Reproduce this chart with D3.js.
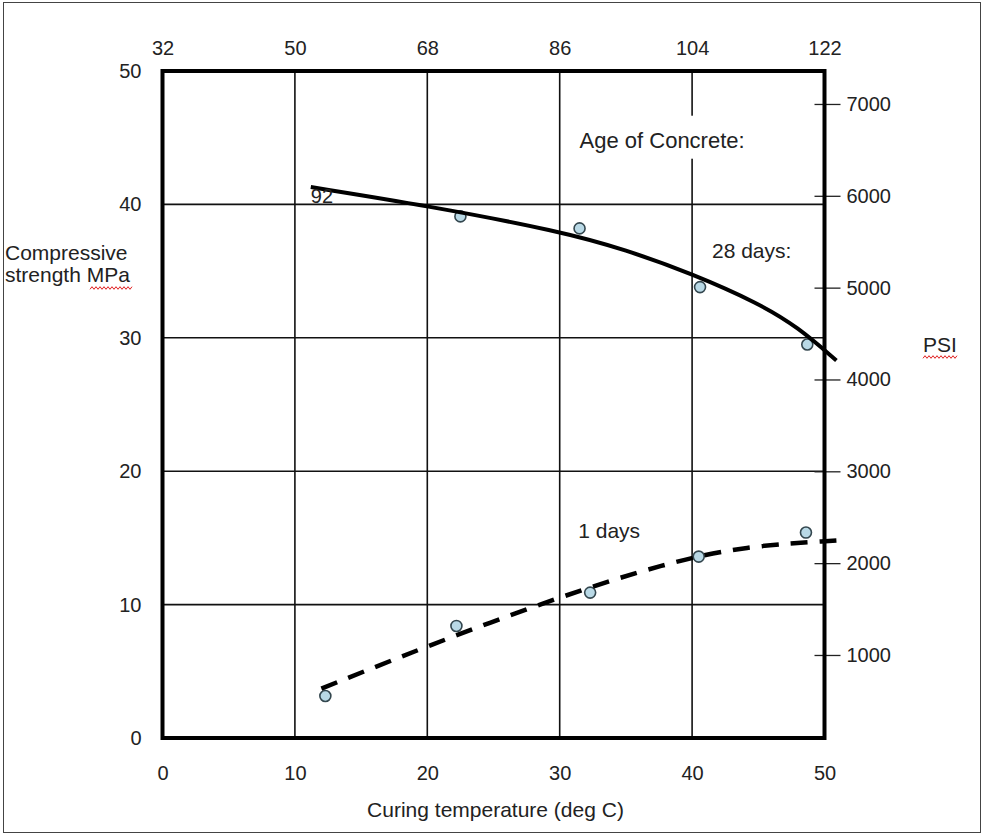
<!DOCTYPE html>
<html>
<head>
<meta charset="utf-8">
<script src="https://cdn.jsdelivr.net/npm/d3@7"></script>
<style>
  body { margin: 0; background: #fff; }
  text { font-family: "Liberation Sans", Arial, sans-serif; fill: #222; }
</style>
</head>
<body>
<svg id="chart"></svg>
<script>
// axis ticks
const tempTicks = [0, 10, 20, 30, 40, 50];
const mpaTicks = [0, 10, 20, 30, 40, 50];
const fahrenheitTicks = [32, 50, 68, 86, 104, 122];
const psiTicks = [1000, 2000, 3000, 4000, 5000, 6000, 7000];
const psiDomain = [96, 7359]; // psi scale as printed, slightly offset from MPa

// measured strengths
const day28Temp = [22.5, 31.5, 40.6, 48.7];
const day28Mpa = [39.1, 38.2, 33.8, 29.5];
const day1Temp = [12.3, 22.2, 32.3, 40.5, 48.6];
const day1Mpa = [3.15, 8.4, 10.9, 13.6, 15.4];

// fitted trend lines
const day28CurveTemp = [11.2, 20, 30, 35, 40, 45, 48, 50.9];
const day28CurveMpa = [41.3, 39.9, 38.0, 36.6, 34.8, 32.6, 30.8, 28.3];
const day1CurveTemp = [12, 20, 30, 38, 44, 50.9];
const day1CurveMpa = [3.7, 6.9, 10.6, 13.1, 14.4, 14.8];

const width = 982;
const height = 834;
const margin = { top: 71, right: 157.5, bottom: 96, left: 162.5 };

const svg = d3.select("#chart")
  .attr("width", width)
  .attr("height", height);

svg.append("rect")
  .attr("x", 3.5).attr("y", 2.5)
  .attr("width", 977).attr("height", 830)
  .attr("fill", "#fff")
  .attr("stroke", "#444");

const x = d3.scaleLinear().domain([0, 50]).range([margin.left, width - margin.right]);
const y = d3.scaleLinear().domain([0, 50]).range([height - margin.bottom, margin.top]);
const xF = d3.scaleLinear().domain([32, 122]).range(x.range());
const yPsi = d3.scaleLinear().domain(psiDomain).range(y.range());

// grid
const grid = svg.append("g").attr("stroke", "#111").attr("stroke-width", 1.6);
grid.selectAll(".vgrid")
  .data(tempTicks.slice(1, -1))
  .join("line")
  .attr("class", "vgrid")
  .attr("x1", d => x(d)).attr("x2", d => x(d))
  .attr("y1", y(50)).attr("y2", y(0));
grid.selectAll(".hgrid")
  .data(mpaTicks.slice(1, -1))
  .join("line")
  .attr("class", "hgrid")
  .attr("x1", x(0)).attr("x2", x(50))
  .attr("y1", d => y(d)).attr("y2", d => y(d));

// axes
function styleAxis(g) {
  g.select(".domain").remove();
  g.selectAll("text").style("font-size", "20px").attr("fill", "#222");
}

svg.append("g")
  .attr("transform", `translate(${x(0)},0)`)
  .call(d3.axisLeft(y).tickValues(mpaTicks).tickSize(0).tickPadding(21))
  .call(styleAxis);

svg.append("g")
  .attr("transform", `translate(0,${y(0)})`)
  .call(d3.axisBottom(x).tickValues(tempTicks).tickSize(0).tickPadding(28))
  .call(styleAxis);

svg.append("g")
  .attr("transform", `translate(0,${y(50)})`)
  .call(d3.axisTop(xF).tickValues(fahrenheitTicks).tickSize(0).tickPadding(16))
  .call(styleAxis);

svg.append("g")
  .attr("transform", `translate(${x(50)},0)`)
  .call(d3.axisRight(yPsi).tickValues(psiTicks).tickFormat(d3.format("d"))
    .tickSizeInner(16).tickSizeOuter(0).tickPadding(6))
  .call(styleAxis)
  .call(g => g.selectAll(".tick line").attr("x1", -10).attr("stroke", "#222").attr("stroke-width", 1.3));

// text labels with white boxes
function label(txt, t, m, size) {
  return svg.append("text")
    .attr("x", x(t)).attr("y", y(m))
    .style("font-size", size + "px")
    .text(txt);
}

const ageLabel = label("Age of Concrete:", 31.5, 44.25, 22);
const box = ageLabel.node().getBBox();
svg.insert("rect", () => ageLabel.node())
  .attr("x", box.x - 5).attr("y", box.y - 12)
  .attr("width", box.width + 10).attr("height", box.height + 18)
  .attr("fill", "#fff");

label("28 days:", 41.5, 36.0, 21);
label("1 days", 31.4, 15.0, 21);

// frame
svg.append("rect")
  .attr("x", x(0)).attr("y", y(50))
  .attr("width", x(50) - x(0)).attr("height", y(0) - y(50))
  .attr("fill", "none")
  .attr("stroke", "#000")
  .attr("stroke-width", 4);

// points
function points(temps, vals) {
  svg.append("g").selectAll("circle")
    .data(temps.map((t, i) => [t, vals[i]]))
    .join("circle")
    .attr("cx", d => x(d[0]))
    .attr("cy", d => y(d[1]))
    .attr("r", 5.5)
    .attr("fill", "#b9d9e6")
    .attr("stroke", "#34474f")
    .attr("stroke-width", 1.6);
}
points(day28Temp, day28Mpa);
points(day1Temp, day1Mpa);

// trend lines
const line = d3.line().x(d => x(d[0])).y(d => y(d[1])).curve(d3.curveBasis);

svg.append("path")
  .datum(day28CurveTemp.map((t, i) => [t, day28CurveMpa[i]]))
  .attr("d", line)
  .attr("fill", "none")
  .attr("stroke", "#000")
  .attr("stroke-width", 4);

svg.append("path")
  .datum(day1CurveTemp.map((t, i) => [t, day1CurveMpa[i]]))
  .attr("d", line)
  .attr("fill", "none")
  .attr("stroke", "#000")
  .attr("stroke-width", 4.5)
  .attr("stroke-dasharray", "17,12");

// stray label at the start of the 28 day line
svg.append("text")
  .attr("x", x(day28CurveTemp[0]))
  .attr("y", y(day28CurveMpa[0]) + 16)
  .style("font-size", "20px")
  .attr("fill", "#555")
  .text("92");

// axis titles
svg.append("text")
  .attr("x", (x(0) + x(50)) / 2 + 2)
  .attr("y", 817)
  .attr("text-anchor", "middle")
  .style("font-size", "21px")
  .text("Curing temperature (deg C)");

const yTitle = svg.append("text").style("font-size", "21px");
yTitle.append("tspan").attr("x", 5).attr("y", 260).text("Compressive");
yTitle.append("tspan").attr("x", 5).attr("y", 282).text("strength MPa");

svg.append("text")
  .attr("x", 923).attr("y", 352)
  .style("font-size", "21px")
  .text("PSI");

// spell-check squiggles
function squiggle(x0, x1, yy) {
  const pts = d3.range(x0, x1 + 0.1, 2).map((v, i) => [v, yy + (i % 2 ? -1.3 : 1.3)]);
  svg.append("path")
    .attr("d", d3.line()(pts))
    .attr("fill", "none")
    .attr("stroke", "#e02020")
    .attr("stroke-width", 1);
}
squiggle(90, 132, 288);
squiggle(923, 958, 357);
</script>
</body>
</html>
